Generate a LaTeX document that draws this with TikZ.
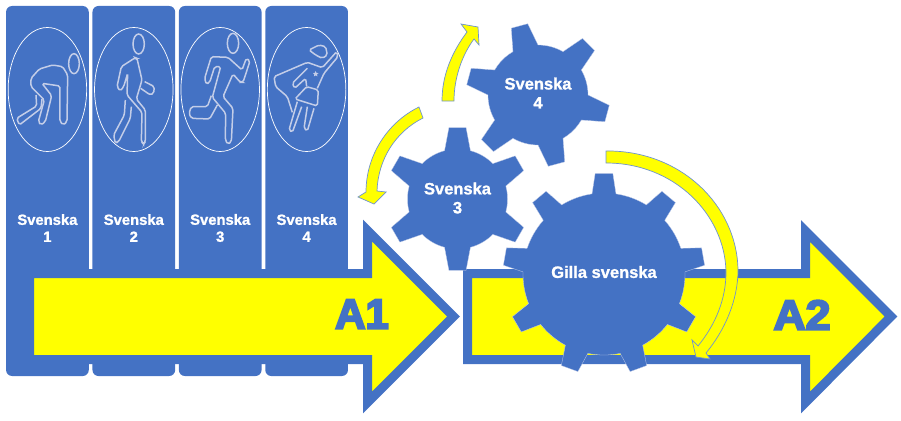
\documentclass[tikz,border=0pt]{standalone}
\usepackage{fontspec}
\usetikzlibrary{positioning,shapes.geometric}
\newfontfamily\labelfont[FakeBold=1.2]{Liberation Sans Bold}
\newfontfamily\bigfont[FakeBold=5]{Liberation Sans Bold}
\definecolor{blockblue}{HTML}{4472C4}
\definecolor{blockyellow}{HTML}{FFFF00}
\definecolor{iconline}{HTML}{C3CDE8}
\definecolor{edgeblue}{HTML}{6E93CF}

% teeth: x, y, body radius, tip radius, first angle, count, half angle at body, half angle at tip
\newcommand{\drawgear}[8]{
 	\begin{scope}[shift={(#1,#2)},x=1pt,y=1pt]
 	\path[gear] ({#5-#7}:#3)
 	\foreach \i [evaluate=\i as \a using #5+\i*360/#6] in {0,...,\numexpr#6-1\relax} {
 		-- ({\a-#8}:#4) -- ({\a+#8}:#4) -- ({\a+#7}:#3)
 		arc[start angle=\a+#7, end angle=\a+360/#6-#7, radius=#3]
 	} -- cycle;
 	\end{scope}
}

\begin{document}
\begin{tikzpicture}[x=1pt,y=-1pt]
 	\tikzstyle{column}=[rectangle, rounded corners=6pt, fill=blockblue, minimum width=82.7pt, minimum height=370pt, inner sep=0pt, node distance=3.3pt]
 	\tikzstyle{ring}=[ellipse, draw=white, line width=0.7pt, minimum width=78.5pt, minimum height=124pt, inner sep=0pt]
 	\tikzstyle{smalltext}=[text=white, align=center, font=\labelfont\fontsize{14.8}{17}\selectfont]
 	\tikzstyle{geartext}=[text=white, align=center, font=\labelfont\fontsize{16.5}{19}\selectfont]
 	\tikzstyle{bigtext}=[text=blockblue, font=\bigfont\fontsize{42}{42}\selectfont]
 	\tikzstyle{gear}=[fill=blockblue, draw=iconline, line width=0.3pt]
 	\tikzstyle{block}=[draw=blockblue, fill=blockyellow, line width=9pt, miter limit=20]
 	\tikzstyle{turn}=[draw=edgeblue, fill=blockyellow, line width=0.7pt]
 	\tikzstyle{icon}=[draw=iconline, line width=1.5pt, rounded corners=1.8pt]
 	\useasboundingbox (0,0) rectangle (901,420);
 	\node[column] (col1) at (47.4,191) { };
 	\node[column] (col2) [right=of col1] { };
 	\node[column] (col3) [right=of col2] { };
 	\node[column] (col4) [right=of col3] { };
 	\foreach \n in {1,2,3,4} {
 		\node[ring, yshift=101.5pt] (ring\n) at (col\n) { };
 		\node[smalltext, yshift=-37pt] (text\n) at (col\n) {Svenska\\\n};
 	}
 	% crouching
 	\begin{scope}[shift={(6,25)},scale=0.3333]
 		\draw[icon] (204,116) ellipse [x radius=16, y radius=30];
 		\draw[icon] (162,183) -- (108,175) -- (137,212) -- (118,290) -- (105,300) -- (97,290) -- (115,225) -- (75,185) -- (75,160) -- (100,132) -- (140,120) -- (170,125) -- (185,150) -- (183,290) -- (172,300) -- (162,290) -- cycle;
 		\draw[icon] (90,210) -- (92,243) -- (32,280) -- (40,300) -- (105,250) -- (108,222);
 	\end{scope}
 	% walking
 	\begin{scope}[shift={(92,25)},scale=0.3333]
 		\draw[icon] (140,57) ellipse [x radius=17, y radius=30];
 		\draw[icon] (130,98) -- (88,125) -- (75,185) -- (85,198) -- (95,185) -- (107,145) -- (105,210) -- (150,262) -- (148,350) -- (155,358) -- (160,350) -- (160,255) -- (133,222) -- (150,165) -- (135,100) -- cycle;
 		\draw[icon] (158,170) -- (187,185) -- (185,205) -- (175,210) -- (146,190);
 		\draw[icon] (100,225) -- (97,270) -- (65,330) -- (70,355) -- (80,350) -- (115,280) -- (118,245);
 	\end{scope}
 	% running
 	\begin{scope}[shift={(178,25)},scale=0.3333]
 		\draw[icon] (165,55) ellipse [x radius=17, y radius=30];
 		\draw[icon] (100,95) -- (150,97) -- (192,135) -- (205,100) -- (216,108) -- (195,172) -- (187,172) -- (165,147) -- (135,215) -- (165,250) -- (160,350) -- (150,358) -- (142,345) -- (143,265) -- (103,217) -- (128,125) -- (110,125) -- (95,172) -- (85,178) -- (80,160) -- cycle;
 		\draw[icon] (100,212) -- (88,245) -- (40,245) -- (33,265) -- (40,280) -- (95,282) -- (118,240);
 	\end{scope}
 	% flying
 	\begin{scope}[shift={(264,25)},scale=0.3333]
 		\draw[icon] (135,75) -- (165,60) -- (185,65) -- (190,90) -- (175,100) -- (155,90) -- cycle;
 		\draw[icon] (85,262) -- (70,215) -- (35,185) -- (30,155) -- (130,112) -- (175,128) -- (218,80) -- (222,95) -- (180,145) -- (160,190);
 		\draw[icon] (130,130) -- (85,175) -- (92,190) -- (125,160) -- (128,185);
 		\draw[icon] (128,185) -- (93,222) -- (160,243) -- (163,195) -- cycle;
 		\draw[icon] (100,230) -- (75,315) -- (85,322) -- (113,245);
 		\draw[icon] (130,245) -- (120,310) -- (130,318) -- (150,250);
 		\node[star, star points=5, star point ratio=2.2, fill=iconline, minimum size=6pt, inner sep=0pt] (badge) at (155,147) { };
 	\end{scope}
 	\draw[block] (29.5,273.5) -- (367.5,273.5) -- (367.5,230.5) -- (453.5,316.5) -- (367.5,402.5) -- (367.5,359.5) -- (29.5,359.5) -- cycle;
 	\draw[block] (467.5,273.5) -- (805.5,273.5) -- (805.5,231) -- (891,316.5) -- (805.5,402.5) -- (805.5,359.5) -- (467.5,359.5) -- cycle;
 	\node[bigtext] (aone) at (362,314) {A1};
 	\node[bigtext, xscale=1.06] (atwo) at (802,315) {A2};
 	\drawgear{538}{95}{50}{72}{105}{6}{15}{6.8}
 	\drawgear{457.5}{199}{50}{72}{90}{6}{15}{6.8}
 	\drawgear{604}{274}{81}{101}{90}{9}{8.5}{5}
 	\node[geartext] (gearfour) at (538,93) {Svenska\\4};
 	\node[geartext] (gearthree) at (457.5,198) {Svenska\\3};
 	\node[geartext] (gearbig) at (604,272) {Gilla svenska};
 	\draw[turn] (442,101) .. controls (442,75) and (452,52) .. (467,32) -- (461,24) -- (478,27) -- (479,45) -- (474,39) .. controls (462,55) and (454,78) .. (454,101) -- cycle;
 	\draw[turn] (419,107) .. controls (388,122) and (366,155) .. (366,192) -- (358,197) -- (374,204) -- (386,192) -- (377,191) .. controls (378,160) and (395,132) .. (423,118) -- cycle;
 	\draw[turn] (606,151) .. controls (680,150) and (737,205) .. (738,270) .. controls (738,300) and (725,330) .. (706,353) -- (710,359) -- (696,357) -- (692,340) -- (698,346) .. controls (715,325) and (726,300) .. (726,272) .. controls (725,215) and (675,163) .. (606,163) -- cycle;
\end{tikzpicture}
\end{document}
